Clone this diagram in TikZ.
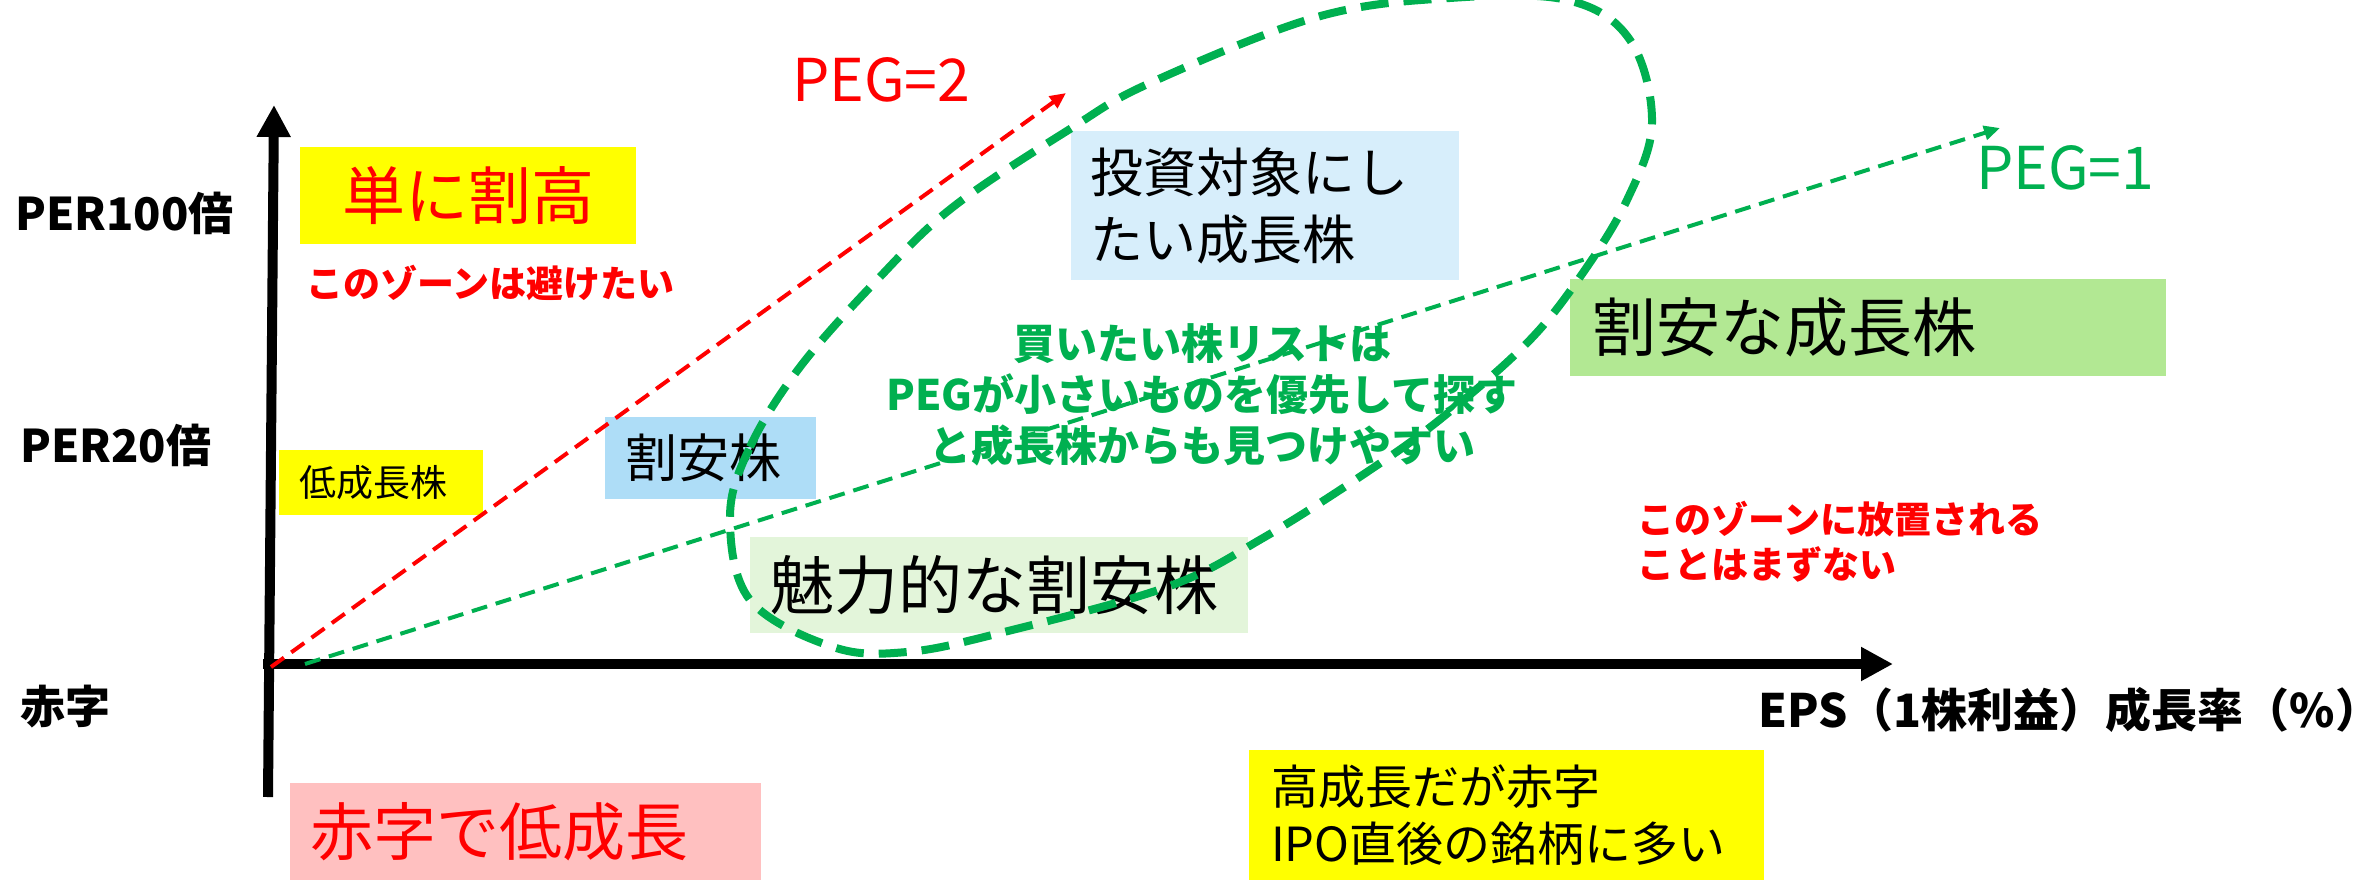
\documentclass[tikz,border=0pt]{standalone}
\usepackage{fontspec}
\setmainfont{Noto Sans CJK JP}
\usetikzlibrary{arrows.meta,positioning}
\definecolor{pegred}{HTML}{FF0000}
\definecolor{peggreen}{HTML}{00B050}
\definecolor{hiyellow}{HTML}{FFFF00}
\definecolor{paleblue}{HTML}{D7EEFB}
\definecolor{midblue}{HTML}{AEDDF7}
\definecolor{palegreen}{HTML}{E3F5DA}
\definecolor{midgreen}{HTML}{B2E893}
\definecolor{redpale}{HTML}{FFC0C0}
\newcommand\fsz[2]{\fontsize{#1pt}{#2pt}\selectfont}

\begin{document}
\begin{tikzpicture}[x=1pt,y=-1pt,
  axis/.style={line width=10pt,-{Triangle[length=32pt,width=32pt]}},
  pegline/.style={line width=4pt,dash pattern=on 16pt off 9pt,-{Triangle[length=16pt,width=14pt]}},
  zone/.style={anchor=north west,inner ysep=0pt,align=left},
  axlabel/.style={anchor=west,inner sep=0pt,font=\bfseries\fsz{45}{54}},
  note/.style={anchor=west,inner sep=0pt,align=left,text=pegred,font=\bfseries\fsz{37}{45}},
  peglabel/.style={anchor=west,inner sep=0pt,font=\fsz{59}{70}}]
\useasboundingbox (0,0) rectangle (2379,880);

\node[zone,fill=hiyellow,text=pegred,minimum width=336pt,minimum height=97pt,align=center,inner xsep=0pt,font=\fsz{63}{75}] (expensive) at (300,147) {単に割高};
\node[note] (avoid) at (306,283) {このゾーンは避けたい};
\node[zone,fill=hiyellow,minimum height=65pt,inner xsep=20pt,text width=164pt,font=\fsz{37}{45}] (lowgrowth) at (279,450) {低成長株};
\node[zone,fill=midblue,minimum height=82pt,inner xsep=20pt,text width=171pt,font=\fsz{52}{62}] (cheap) at (605,417) {割安株};
\node[zone,fill=paleblue,minimum height=149pt,inner xsep=19pt,text width=350pt,font=\fsz{53}{67}] (target) at (1071,131) {投資対象にし\\たい成長株};
\node[zone,fill=palegreen,minimum height=96pt,inner xsep=20pt,text width=458pt,font=\fsz{64}{76}] (attractive) at (750,537) {魅力的な割安株};
\node[zone,fill=midgreen,minimum height=97pt,inner xsep=22pt,text width=552pt,font=\fsz{64}{76}] (cheapgrowth) at (1570,279) {割安な成長株};
\node[zone,fill=redpale,text=pegred,minimum height=97pt,inner xsep=20pt,text width=431pt,font=\fsz{63}{75}] (redlow) at (290,783) {赤字で低成長};
\node[zone,fill=hiyellow,minimum height=130pt,inner xsep=22pt,text width=471pt,font=\fsz{47}{57}] (ipo) at (1249,750) {高成長だが赤字\\IPO直後の銘柄に多い};
\node[note] (neglect) at (1637,542) {このゾーンに放置される\\ことはまずない};

\node[axlabel] (per100) at (15,213) {PER100倍};
\node[axlabel] (per20) at (20,445) {PER20倍};
\node[axlabel] (deficit) at (20,707) {赤字};
\node[axlabel,font=\bfseries\fsz{46}{55}] (epsaxis) at (1758,710) {EPS（1株利益）成長率（\%）};

\coordinate (ybot) at (268,797);
\coordinate (ytop) at (274,105);
\coordinate (xleft) at (263,664);
\coordinate (xtip) at (1893,664);
\coordinate (redstart) at (271,667);
\coordinate (redtip) at (1066,93);
\coordinate (greenstart) at (305,664);
\coordinate (greentip) at (2000,128);

\draw[axis] (ybot) -- (ytop);
\draw[axis] (xleft) -- (xtip);
\draw[pegline,pegred] (redstart) -- (redtip);
\draw[pegline,peggreen] (greenstart) -- (greentip);
\node[peglabel,text=pegred] (peg2) at (792,80) {PEG=2};
\node[peglabel,text=peggreen] (peg1) at (1976,168) {PEG=1};

\draw[peggreen,line width=8pt,dash pattern=on 28pt off 15pt] plot[smooth cycle,tension=0.6] coordinates {
  (730,517) (750,447) (800,367) (877,280) (953,207) (1070,129) (1150,83) (1317,17)
  (1450,-2) (1567,0) (1630,40) (1652,123) (1627,200) (1580,277) (1527,343) (1443,417)
  (1370,470) (1263,538) (1167,587) (1000,633) (907,652) (833,647) (750,600)};

\node[align=center,text=peggreen,font=\bfseries\fsz{42}{51}] (buylist) at (1202,395) {買いたい株リストは\\PEGが小さいものを優先して探す\\と成長株からも見つけやすい};
\end{tikzpicture}
\end{document}
